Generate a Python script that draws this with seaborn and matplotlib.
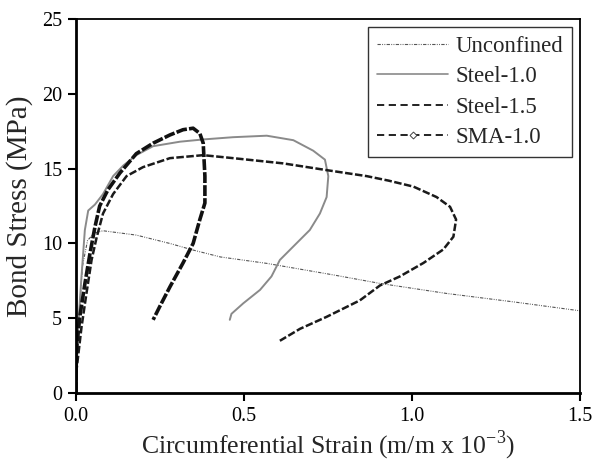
import numpy as np
import pandas as pd
import matplotlib
matplotlib.use("Agg")
import matplotlib.pyplot as plt
from matplotlib.lines import Line2D
import seaborn as sns

# ---- data ----
unconf_x = [0, 0.005, 0.012, 0.02, 0.035, 0.055, 0.081, 0.18, 0.28, 0.349, 0.43,
            0.568, 0.766, 0.905, 1.103, 1.301, 1.5]
unconf_y = [0, 3, 6, 8.5, 10.2, 10.7, 10.85, 10.56, 10.0, 9.56, 9.1,
            8.67, 7.9, 7.33, 6.66, 6.1, 5.5]

steel10_x = [0, 0.002, 0.007, 0.017, 0.027, 0.037, 0.057, 0.081, 0.111, 0.141, 0.18,
             0.23, 0.31, 0.379, 0.468, 0.568, 0.647, 0.706, 0.741, 0.751, 0.746,
             0.726, 0.696, 0.647, 0.607, 0.582, 0.548, 0.498, 0.463, 0.458]
steel10_y = [0, 1.1, 4.4, 7.8, 10.9, 12.2, 12.6, 13.3, 14.5, 15.2, 15.9,
             16.5, 16.8, 16.95, 17.1, 17.2, 16.9, 16.2, 15.6, 14.5, 13.1,
             12.0, 10.9, 9.8, 8.9, 7.8, 6.9, 6.0, 5.3, 4.9]

steel15_x = [0, 0.002, 0.017, 0.032, 0.047, 0.062, 0.081, 0.111, 0.151, 0.2, 0.28,
             0.379, 0.468, 0.617, 0.746, 0.865, 0.93, 1.004, 1.073, 1.113, 1.131,
             1.123, 1.093, 1.034, 0.964, 0.905, 0.845, 0.746, 0.667, 0.607]
steel15_y = [0, 1.5, 4.4, 6.7, 8.9, 10.4, 12.0, 13.3, 14.5, 15.1, 15.7,
             15.9, 15.7, 15.35, 14.9, 14.5, 14.2, 13.8, 13.1, 12.45, 11.6,
             10.45, 9.6, 8.7, 7.8, 7.2, 6.2, 5.1, 4.3, 3.5]

sma_x = [0, 0.002, 0.012, 0.027, 0.042, 0.057, 0.071, 0.096, 0.131, 0.18, 0.23,
         0.28, 0.319, 0.349, 0.369, 0.379, 0.384, 0.384, 0.369, 0.349, 0.319,
         0.28, 0.25, 0.23]
sma_y = [0, 2.9, 5.1, 7.3, 9.3, 11.1, 12.5, 13.6, 14.7, 16.0, 16.7,
         17.25, 17.6, 17.7, 17.35, 16.7, 14.5, 12.7, 11.6, 10.0, 8.7,
         7.1, 5.8, 4.9]

labels = ["Unconfined", "Steel-1.0", "Steel-1.5", "SMA-1.0"]
x_ticks = [0.0, 0.5, 1.0, 1.5]
y_ticks = [0, 5, 10, 15, 20, 25]

# ---- styling ----
sns.set_style("ticks")
plt.rcParams["font.family"] = ["Liberation Serif", "DejaVu Serif"]
plt.rcParams["mathtext.fontset"] = "custom"
plt.rcParams["mathtext.rm"] = "Liberation Serif"

fig = plt.figure(figsize=(5.92, 4.62), dpi=100)
ax = fig.add_axes([0.128, 0.149, 0.852, 0.810])

UNC_DASH = (3, 1.2, 0.8, 1.2, 0.8, 1.2)
series = [
    (unconf_x, unconf_y, "#555555", 0.8, UNC_DASH),
    (steel10_x, steel10_y, "#8a8a8a", 1.4, None),
    (steel15_x, steel15_y, "#1a1a1a", 1.8, (3, 1.0)),
    (sma_x, sma_y, "#111111", 2.6, (3, 0.6)),
]
for (xs, ys, col, lw, dashes), lab in zip(series, labels):
    df = pd.DataFrame({"x": xs, "y": ys})
    sns.lineplot(data=df, x="x", y="y", sort=False, estimator=None, ax=ax,
                 color=col, linewidth=lw)
    l = ax.get_lines()[-1]
    if dashes is not None:
        l.set_dashes(dashes)

ax.set_xlim(0, 1.5)
ax.set_ylim(0, 25)
ax.set_xticks(x_ticks)
ax.set_xticklabels([f"{v:.1f}" for v in x_ticks])
ax.set_yticks(y_ticks)
ax.tick_params(axis="both", direction="out", length=6, width=1.5, labelsize=14.5,
               colors="black", pad=4)
ax.tick_params(top=False, right=False)
for s in ["left", "bottom"]:
    ax.spines[s].set_linewidth(2.0)
for s in ["top", "right"]:
    ax.spines[s].set_linewidth(1.3)
    ax.spines[s].set_visible(True)
for s in ax.spines.values():
    s.set_color("black")

ax.set_xlabel(r"Circumferential Strain (m/m x 10$^{\mathrm{-3}}$)", fontsize=18.5, labelpad=2)
ax.set_ylabel("Bond Stress (MPa)", fontsize=21, labelpad=6)

handles = [
    Line2D([], [], color="#555555", lw=0.8, dashes=UNC_DASH),
    Line2D([], [], color="#8a8a8a", lw=1.2),
    Line2D([], [], color="#111111", lw=1.3, dashes=(4, 2.5)),
    Line2D([], [], color="#111111", lw=1.3, dashes=(4, 2.5), marker="D",
           markersize=3.5, markerfacecolor="white", markeredgecolor="#444444",
           markeredgewidth=0.7),
]
leg = ax.legend(handles, labels, loc="upper right", fontsize=16.5, frameon=True,
                fancybox=False, shadow=False, borderpad=0.4, labelspacing=0.4,
                handlelength=3.1, handletextpad=0.3, borderaxespad=0.35)
leg.get_frame().set_edgecolor("black")
leg.get_frame().set_linewidth(1.0)

fig.savefig("out.png", dpi=100)
